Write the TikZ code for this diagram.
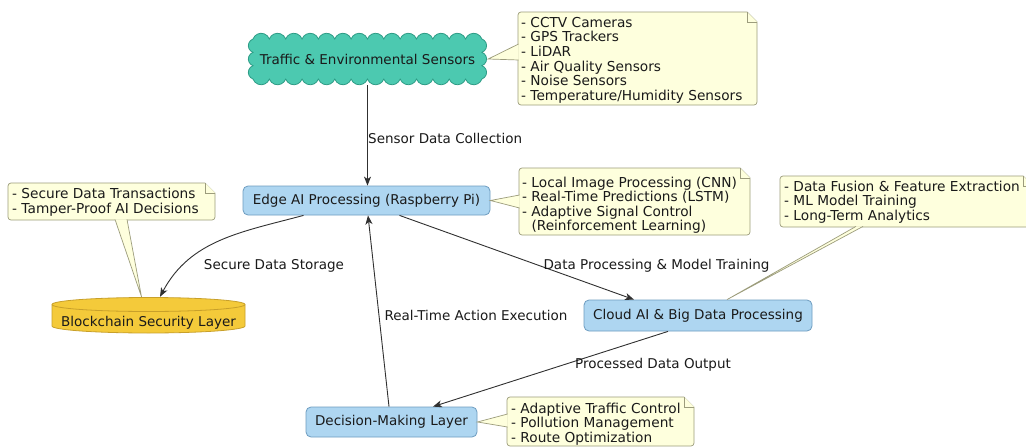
\documentclass[tikz,border=0pt]{standalone}
\usepackage{fontspec}
\setmainfont{DejaVu Sans}
\usetikzlibrary{arrows.meta}
\definecolor{txt}{HTML}{1A1A1A}
\definecolor{arrowc}{HTML}{303030}
\definecolor{tealfill}{HTML}{4CC9B0}
\definecolor{tealline}{HTML}{2E9C86}
\definecolor{bluefill}{HTML}{AED6F1}
\definecolor{blueline}{HTML}{6D9CC0}
\definecolor{yelfill}{HTML}{F4CA3A}
\definecolor{yelline}{HTML}{C8A02A}
\definecolor{notefill}{HTML}{FEFFDD}
\definecolor{noteline}{HTML}{9C9C7C}
\newcommand\drawnote[4]{%
  \draw[notestyle] (#3-10,-#2) -- (#1+3,-#2) arc[start angle=90,end angle=180,radius=3]
    -- (#1,-#4+3) arc[start angle=180,end angle=270,radius=3]
    -- (#3-3,-#4) arc[start angle=270,end angle=360,radius=3]
    -- (#3,-#2-10) -- cycle;
  \draw[notestyle] (#3-10,-#2) -- (#3-10,-#2-10) -- (#3,-#2-10);
}
\begin{document}
\begin{tikzpicture}[x=1pt,y=1pt,
  font=\fontsize{13.5}{14.6}\selectfont, text=txt,
  box/.style={draw=blueline, fill=bluefill, rounded corners=5pt, line width=0.8pt, inner sep=0pt},
  notestyle/.style={draw=noteline, fill=notefill, line width=0.7pt},
  notetext/.style={anchor=north west, inner sep=0pt, align=left, font=\fontsize{13.7}{14.6}\selectfont},
  arr/.style={draw=arrowc, line width=0.9pt, -{Stealth[length=9pt,width=7pt,inset=2.5pt]}},
  lbl/.style={inner sep=0pt},
  wedgefill/.style={fill=notefill},
  wedgeline/.style={draw=noteline, line width=0.7pt}
]
\useasboundingbox (0,0) rectangle (1026,-447);
\fill[white] (0,0) rectangle (1026,-447);

% cloud: sensors
\draw[fill=tealfill, draw=tealline, line width=0.8pt] (253,-39)
  \foreach \i in {1,...,14}{ arc[start angle=160,end angle=20,radius=8.70] }
  \foreach \i in {1,...,3}{ arc[start angle=70,end angle=-70,radius=7.10] }
  \foreach \i in {1,...,14}{ arc[start angle=-20,end angle=-160,radius=8.70] }
  \foreach \i in {1,...,3}{ arc[start angle=250,end angle=110,radius=7.10] } -- cycle;
\node[minimum width=241pt, minimum height=52pt, inner sep=0pt] (sens) at (367.5,-59) {Traffic \& Environmental Sensors};

% boxes
\node[box, minimum width=247pt, minimum height=29pt] (edge) at (366.5,-200.5) {Edge AI Processing (Raspberry Pi)};
\node[box, minimum width=228pt, minimum height=31pt] (cai) at (698,-315.5) {Cloud AI \& Big Data Processing};
\node[box, minimum width=171pt, minimum height=30pt] (dec) at (391.5,-422) {Decision-Making Layer};

% blockchain cylinder
\draw[fill=yelfill, draw=yelline, line width=0.8pt] (52,-304.5) -- (52,-326)
  arc[start angle=180,end angle=360,x radius=96.5,y radius=7]
  -- (245,-304.5) arc[start angle=0,end angle=180,x radius=96.5,y radius=7] -- cycle;
\draw[draw=yelline, line width=0.8pt] (52,-304.5) arc[start angle=180,end angle=360,x radius=96.5,y radius=7];
\node[minimum width=193pt, minimum height=36pt, inner sep=0pt] (bc) at (148.5,-315) {};
\node[inner sep=0pt] (bct) at (148.5,-322.5) {Blockchain Security Layer};

% notes
\drawnote{518}{12}{757}{105}
\node[notetext] (n1) at (521,-17) {- CCTV Cameras\\- GPS Trackers\\- LiDAR\\- Air Quality Sensors\\- Noise Sensors\\- Temperature/Humidity Sensors};
\drawnote{519}{168}{750}{235}
\node[notetext] (n2) at (522,-176.5) {- Local Image Processing (CNN)\\- Real-Time Predictions (LSTM)\\- Adaptive Signal Control\\\phantom{- }(Reinforcement Learning)};
\drawnote{8}{183}{215}{220}
\node[notetext] (n3) at (12,-188) {- Secure Data Transactions\\- Tamper-Proof AI Decisions};
\drawnote{780}{176}{1033}{227}
\node[notetext] (n4) at (784,-180.5) {- Data Fusion \& Feature Extraction\\- ML Model Training\\- Long-Term Analytics};
\drawnote{507}{397}{694}{446}
\node[notetext] (n5) at (511,-402.5) {- Adaptive Traffic Control\\- Pollution Management\\- Route Optimization};

% note pointers
\coordinate (p1a) at (518.6,-44); \coordinate (p1b) at (518.6,-60);
\fill[wedgefill] (sens.east) -- (p1a) -- (p1b) -- cycle;
\draw[wedgeline] (p1a) -- (sens.east) -- (p1b);
\coordinate (p2a) at (519.6,-195); \coordinate (p2b) at (519.6,-208);
\fill[wedgefill] (edge.east) -- (p2a) -- (p2b) -- cycle;
\draw[wedgeline] (p2a) -- (edge.east) -- (p2b);
\coordinate (p3t) at ([xshift=-7pt]bc.north);
\coordinate (p3a) at (115,-219.4); \coordinate (p3b) at (127,-219.4);
\fill[wedgefill] (p3t) -- (p3a) -- (p3b) -- cycle;
\draw[wedgeline] (p3a) -- (p3t) -- (p3b);
\coordinate (p4t) at ([xshift=29pt]cai.north);
\coordinate (p4a) at (856,-226.4); \coordinate (p4b) at (863,-226.4);
\fill[wedgefill] (p4t) -- (p4a) -- (p4b) -- cycle;
\draw[wedgeline] (p4a) -- (p4t) -- (p4b);
\coordinate (p5a) at (507.6,-414); \coordinate (p5b) at (507.6,-427);
\fill[wedgefill] (dec.east) -- (p5a) -- (p5b) -- cycle;
\draw[wedgeline] (p5a) -- (dec.east) -- (p5b);

% connectors
\draw[arr] (sens.south) -- (sens.south |- edge.north);
\draw[arr] ([xshift=-63pt]edge.south) to[out=195,in=62] ([xshift=11.5pt]bc.north);
\draw[arr] ([xshift=33pt]edge.south) -- ([xshift=-64pt]cai.north);
\draw[arr] ([xshift=-30pt]cai.south) -- ([xshift=41.5pt]dec.north);
\draw[arr] ([xshift=-2.5pt]dec.north) -- ([xshift=1.5pt]edge.south);

% labels
\node[lbl, anchor=west] (l1) at (368,-138) {Sensor Data Collection};
\node[lbl] (l2) at (274,-266) {Secure Data Storage};
\node[lbl] (l3) at (656.5,-266) {Data Processing \& Model Training};
\node[lbl] (l4) at (476,-315) {Real-Time Action Execution};
\node[lbl] (l5) at (653,-365) {Processed Data Output};
\end{tikzpicture}
\end{document}
